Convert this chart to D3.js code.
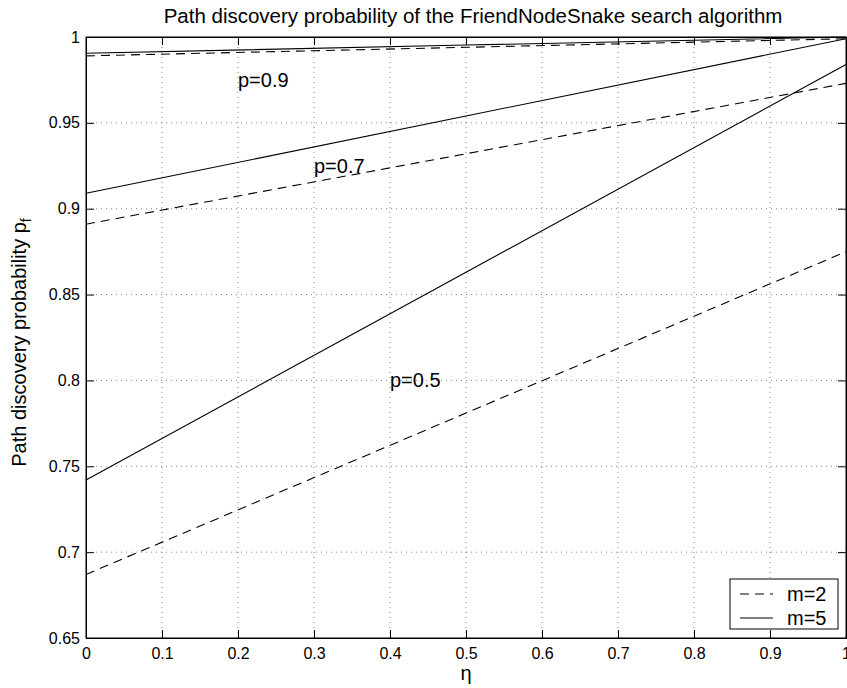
<!DOCTYPE html>
<html>
<head>
<meta charset="utf-8">
<script src="https://cdn.jsdelivr.net/npm/d3@7"></script>
<style>
  body { margin: 0; background: #fff; }
  svg { font-family: "Liberation Sans", Arial, sans-serif; }
  .grid line { stroke: #666; stroke-dasharray: 1,4; stroke-width: 0.8; }
</style>
</head>
<body>
<svg width="847" height="688"></svg>
<script>
// eta samples
var eta = [0, 0.5, 1];

// m=2 (dashed) and m=5 (solid) for p = 0.9, 0.7, 0.5
var m2_p09 = [0.989, 0.994, 0.999];
var m5_p09 = [0.9905, 0.9953, 1.0];
var m2_p07 = [0.891, 0.932, 0.973];
var m5_p07 = [0.909, 0.954, 0.999];
var m2_p05 = [0.687, 0.781, 0.875];
var m5_p05 = [0.742, 0.863, 0.984];

var xTicks = [0, 0.1, 0.2, 0.3, 0.4, 0.5, 0.6, 0.7, 0.8, 0.9, 1];
var yTicks = [0.65, 0.7, 0.75, 0.8, 0.85, 0.9, 0.95, 1];

var labels = [
    {text: "p=0.9", x: 0.2, y: 0.975},
    {text: "p=0.7", x: 0.3, y: 0.925},
    {text: "p=0.5", x: 0.4, y: 0.8}
];

var legendItems = ["m=2", "m=5"];

var margin = {top: 37, right: 1, bottom: 50, left: 86},
    width = 847 - margin.left - margin.right,
    height = 688 - margin.top - margin.bottom;

var x = d3.scaleLinear().domain([0, 1]).range([0, width]);
var y = d3.scaleLinear().domain([0.65, 1]).range([height, 0]);

var svg = d3.select("svg");
var g = svg.append("g")
    .attr("transform", "translate(" + margin.left + "," + margin.top + ")");

// grid
g.append("g")
    .attr("class", "grid")
    .selectAll("line")
    .data(xTicks.slice(1, -1))
    .enter().append("line")
    .attr("x1", function(d) { return x(d); })
    .attr("x2", function(d) { return x(d); })
    .attr("y1", 0)
    .attr("y2", height);

g.append("g")
    .attr("class", "grid")
    .selectAll("line")
    .data(yTicks.slice(1, -1))
    .enter().append("line")
    .attr("y1", function(d) { return y(d); })
    .attr("y2", function(d) { return y(d); })
    .attr("x1", 0)
    .attr("x2", width);

// lines
var line = d3.line()
    .x(function(d, i) { return x(eta[i]); })
    .y(function(d) { return y(d); });

var series = [
    {v: m2_p09, dash: "9,6"},
    {v: m5_p09, dash: null},
    {v: m2_p07, dash: "9,6"},
    {v: m5_p07, dash: null},
    {v: m2_p05, dash: "9,6"},
    {v: m5_p05, dash: null}
];

series.forEach(function(s) {
    g.append("path")
        .attr("d", line(s.v))
        .attr("fill", "none")
        .attr("stroke", "#000")
        .attr("stroke-width", 1.1)
        .attr("stroke-dasharray", s.dash);
});

// p labels
g.selectAll(".plabel")
    .data(labels)
    .enter().append("text")
    .attr("class", "plabel")
    .attr("x", function(d) { return x(d.x); })
    .attr("y", function(d) { return y(d.y); })
    .attr("dy", "0.35em")
    .style("font-size", "20px")
    .text(function(d) { return d.text; });

// axes (ticks inward, box)
var xAxis = d3.axisBottom(x).tickValues(xTicks).tickSize(-8)
    .tickFormat(function(d) { return d3.format("")(d); });
var yAxis = d3.axisLeft(y).tickValues(yTicks).tickSize(-8).tickPadding(6)
    .tickFormat(function(d) { return d3.format("")(d); });

var gx = g.append("g")
    .attr("transform", "translate(0," + height + ")")
    .call(xAxis);
var gy = g.append("g").call(yAxis);

g.append("g")
    .call(d3.axisTop(x).tickValues(xTicks).tickSize(-8).tickFormat(""));
g.append("g")
    .attr("transform", "translate(" + width + ",0)")
    .call(d3.axisRight(y).tickValues(yTicks).tickSize(-8).tickFormat(""));

g.selectAll(".domain").attr("stroke", "#000").attr("stroke-width", 1);
g.selectAll(".tick line").attr("stroke", "#000");
g.selectAll(".tick text").style("font-size", "16px").attr("fill", "#000");
gx.selectAll(".tick text").attr("y", 21).attr("dy", 0);
gy.selectAll(".tick text").attr("x", -6);

g.append("rect")
    .attr("width", width)
    .attr("height", height)
    .attr("fill", "none")
    .attr("stroke", "#000");

// title and axis labels
svg.append("text")
    .attr("x", margin.left + width / 2 + 7)
    .attr("y", 23)
    .attr("text-anchor", "middle")
    .style("font-size", "20.5px")
    .text("Path discovery probability of the FriendNodeSnake search algorithm");

svg.append("text")
    .attr("x", margin.left + width / 2)
    .attr("y", 680)
    .attr("text-anchor", "middle")
    .style("font-size", "20px")
    .text("η");

var yl = svg.append("text")
    .attr("transform", "translate(26," + (margin.top + height / 2 + 5) + ") rotate(-90)")
    .attr("text-anchor", "middle")
    .style("font-size", "20px");
yl.append("tspan").text("Path discovery probability p");
yl.append("tspan").attr("dy", 5).style("font-size", "14px").text("f");

// legend
var lg = svg.append("g").attr("transform", "translate(730,579)");
lg.append("rect")
    .attr("width", 108)
    .attr("height", 50)
    .attr("fill", "#fff")
    .attr("stroke", "#000");

legendItems.forEach(function(name, i) {
    var yy = 15 + i * 24;
    lg.append("line")
        .attr("x1", 10).attr("x2", 43)
        .attr("y1", yy).attr("y2", yy)
        .attr("stroke", "#000")
        .attr("stroke-dasharray", i === 0 ? "9,6" : null);
    lg.append("text")
        .attr("x", 57)
        .attr("y", yy)
        .attr("dy", "0.35em")
        .style("font-size", "20px")
        .text(name);
});
</script>
</body>
</html>
